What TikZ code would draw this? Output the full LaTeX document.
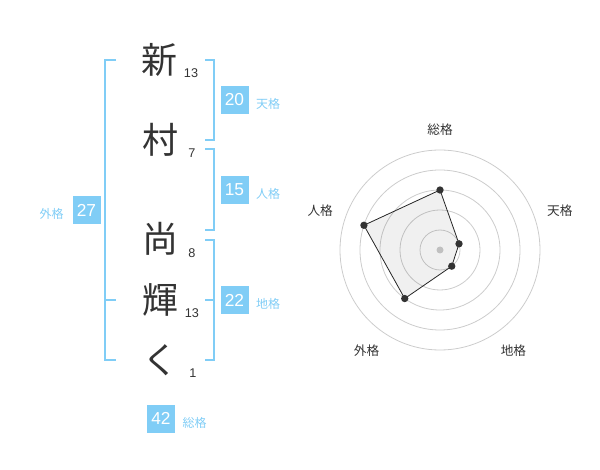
\documentclass[tikz,border=0pt]{standalone}
\usepackage{fontspec}
\setmainfont{Liberation Sans}
\newfontfamily\jpfont{Noto Sans CJK JP}
\usetikzlibrary{positioning}

\definecolor{kakuBlue}{RGB}{128,205,246}
\definecolor{inkGray}{RGB}{51,51,51}
\definecolor{ringGray}{RGB}{204,204,204}

\tikzset{every picture/.style={line width=0.75pt}}
\tikzset{
	kanji/.style={text=inkGray, inner sep=0pt, font=\jpfont\fontsize{27}{27}\selectfont},
	strokes/.style={text=inkGray, inner sep=0pt, font=\fontsize{9.5}{10}\selectfont},
	kakubox/.style={fill=kakuBlue, text=white, minimum size=21pt, inner sep=0pt, font=\fontsize{13}{13}\selectfont},
	kakulabel/.style={text=kakuBlue, inner sep=0pt, font=\jpfont\fontsize{9}{9}\selectfont},
	bracket/.style={draw=kakuBlue, line width=1.5pt},
	ring/.style={draw=ringGray, line width=0.6pt},
	radarlabel/.style={text=inkGray, inner sep=0pt, font=\jpfont\fontsize{9.5}{10}\selectfont},
	dot/.style={circle, fill=inkGray, inner sep=0pt, minimum size=5.5pt}}

\begin{document}
\begin{tikzpicture}[x=0.75pt,y=0.75pt,yscale=-1,xscale=1]
	\useasboundingbox (0,0) rectangle (600,470);

	% Name characters
	\node[kanji] (k1) at (159,60) {新};
	\node[kanji] (k2) at (160,140) {村};
	\node[kanji] (k3) at (160,239) {尚};
	\node[kanji] (k4) at (160,300) {輝};
	\node[kanji] (k5) at (160,360) {く};
	% Stroke counts
	\node[strokes] (s1) at (191,73) {13};
	\node[strokes] (s2) at (192,153) {7};
	\node[strokes] (s3) at (192,253) {8};
	\node[strokes] (s4) at (192,313) {13};
	\node[strokes] (s5) at (193,373) {1};

	%Brackets
	\draw[bracket] (116,60) -- (105,60) -- (105,360) -- (116,360) ;
	\draw[bracket] (105,300) -- (116,300) ;
	\draw[bracket] (205,60) -- (214,60) -- (214,140) -- (205,140) ;
	\draw[bracket] (205,149) -- (214,149) -- (214,230) -- (205,230) ;
	\draw[bracket] (205,240) -- (214,240) -- (214,360) -- (205,360) ;
	\draw[bracket] (205,300) -- (214,300) ;

	% Kaku boxes and labels
	\node[kakubox] (ten) at (234.5,100) {20};
	\node[kakulabel, right=5pt of ten, yshift=-3pt] (tenL) {天格};
	\node[kakubox] (jin) at (234.5,190) {15};
	\node[kakulabel, right=5pt of jin, yshift=-3pt] (jinL) {人格};
	\node[kakubox] (chi) at (234.5,300) {22};
	\node[kakulabel, right=5pt of chi, yshift=-3pt] (chiL) {地格};
	\node[kakubox] (gai) at (86.5,210) {27};
	\node[kakulabel, left=6pt of gai, yshift=-3pt] (gaiL) {外格};
	\node[kakubox] (sou) at (161,418.5) {42};
	\node[kakulabel, right=5pt of sou, yshift=-3pt] (souL) {総格};

	%Radar chart
	\coordinate (c) at (440,250);
	\foreach \r in {20,40,60,80,100}
		\draw[ring] (c) circle (\r);
	\fill[ringGray] (c) circle (3.5);

	\node[radarlabel] (aSou) at ([shift={(-90:120)}]c) {総格};
	\node[radarlabel] (aTen) at ([shift={(-18:126)}]c) {天格};
	\node[radarlabel] (aChi) at ([shift={(54:125)}]c) {地格};
	\node[radarlabel] (aGai) at ([shift={(126:125)}]c) {外格};
	\node[radarlabel] (aJin) at ([shift={(198:126)}]c) {人格};

	\coordinate (pSou) at ([shift={(-90:60)}]c);
	\coordinate (pTen) at ([shift={(-18:20)}]c);
	\coordinate (pChi) at ([shift={(54:20)}]c);
	\coordinate (pGai) at ([shift={(126:60)}]c);
	\coordinate (pJin) at ([shift={(198:80)}]c);
	\draw[draw=black!85, fill=black, fill opacity=0.06, line width=0.6pt] (pSou) -- (pTen) -- (pChi) -- (pGai) -- (pJin) -- cycle ;
	\foreach \p in {pSou,pTen,pChi,pGai,pJin}
		\node[dot] at (\p) {};

\end{tikzpicture}
\end{document}
